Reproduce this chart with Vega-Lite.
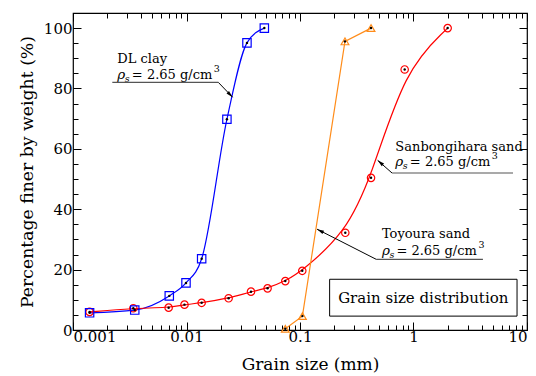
{
  "$schema": "https://vega.github.io/schema/vega-lite/v6.json",
  "width": 454,
  "height": 317,
  "autosize": "none",
  "padding": {"left": 73, "top": 13, "right": 9, "bottom": 46},
  "background": "white",
  "config": {
    "view": {"stroke": "black", "strokeWidth": 1.2},
    "font": "DejaVu Serif",
    "axis": {
      "grid": false,
      "domain": false,
      "labelFont": "DejaVu Serif",
      "labelFontSize": 15,
      "labelColor": "black",
      "titleFont": "DejaVu Serif",
      "titleFontSize": 17,
      "titleFontWeight": "normal",
      "titleColor": "black",
      "tickColor": "black",
      "tickWidth": 1
    }
  },
  "datasets": {
    "pts": [
      {"s": "DL", "x": 0.0014, "y": 5.7},
      {"s": "DL", "x": 0.0035, "y": 6.6},
      {"s": "DL", "x": 0.00705, "y": 11.3},
      {"s": "DL", "x": 0.0099, "y": 15.6},
      {"s": "DL", "x": 0.0136, "y": 23.6},
      {"s": "DL", "x": 0.0227, "y": 69.8},
      {"s": "DL", "x": 0.0341, "y": 95.1},
      {"s": "DL", "x": 0.0485, "y": 100},
      {"s": "SB", "x": 0.0014, "y": 6.0},
      {"s": "SB", "x": 0.0034, "y": 7.2},
      {"s": "SB", "x": 0.00696, "y": 7.4},
      {"s": "SB", "x": 0.0096, "y": 8.4},
      {"s": "SB", "x": 0.0136, "y": 9.0},
      {"s": "SB", "x": 0.0235, "y": 10.5},
      {"s": "SB", "x": 0.037, "y": 12.7},
      {"s": "SB", "x": 0.0518, "y": 13.8},
      {"s": "SB", "x": 0.0742, "y": 16.2},
      {"s": "SB", "x": 0.1047, "y": 19.6},
      {"s": "SB", "x": 0.2507, "y": 32.2},
      {"s": "SB", "x": 0.4225, "y": 50.4},
      {"s": "SB", "x": 0.836, "y": 86.3},
      {"s": "SB", "x": 2.0, "y": 100},
      {"s": "TY", "x": 0.0742, "y": 0.4},
      {"s": "TY", "x": 0.105, "y": 4.6},
      {"s": "TY", "x": 0.249, "y": 95.6},
      {"s": "TY", "x": 0.4225, "y": 100}
    ],
    "lbl": [
      {"x": 0.00246, "y": 88.6, "t": "DL clay"},
      {"x": 0.692, "y": 59.2, "t": "Sanbongihara sand"},
      {"x": 0.527, "y": 30.5, "t": "Toyoura sand"}
    ],
    "rho": [
      {"x": 0.00246, "y": 83.3},
      {"x": 0.692, "y": 54.2},
      {"x": 0.527, "y": 24.8}
    ],
    "under": [
      {"x": 0.00222, "x2": 0.0191, "y": 82.0},
      {"x": 0.647, "x2": 7.53, "y": 52.0},
      {"x": 0.47, "x2": 4.09, "y": 23.4}
    ],
    "shaft": [
      {"x": 0.0191, "y": 82.0, "x2": 0.02548, "y2": 77.1},
      {"x": 0.647, "y": 52.0, "x2": 0.483, "y2": 56.2},
      {"x": 0.47, "y": 23.4, "x2": 0.1413, "y2": 33.4}
    ]
  },
  "encoding": {
    "x": {"field": "x", "type": "quantitative", "scale": {"type": "log", "domain": [0.001, 10], "nice": false}, "axis": null},
    "y": {"field": "y", "type": "quantitative", "scale": {"domain": [0, 105], "nice": false, "zero": true}, "axis": null}
  },
  "layer": [
    {
      "data": {"name": "pts"},
      "transform": [{"filter": "datum.s == 'DL'"}],
      "mark": {"type": "line", "color": "#0000ff", "strokeWidth": 1.2, "interpolate": "monotone"},
      "encoding": {
        "x": {"field": "x", "type": "quantitative", "scale": {"type": "log", "domain": [0.001, 10], "nice": false},
          "title": "Grain size (mm)",
          "axis": {
            "orient": "bottom",
            "values": [0.001,0.002,0.003,0.004,0.005,0.006,0.007,0.008,0.009,0.01,0.02,0.03,0.04,0.05,0.06,0.07,0.08,0.09,0.1,0.2,0.3,0.4,0.5,0.6,0.7,0.8,0.9,1,2,3,4,5,6,7,8,9,10],
            "tickSize": {"condition": {"test": "abs(log(datum.value)/LN10 - round(log(datum.value)/LN10)) < 1e-6", "value": -8}, "value": -5},
            "labelExpr": "abs(log(datum.value)/LN10 - round(log(datum.value)/LN10)) < 1e-6 ? toString(datum.value) : ''",
            "labelPadding": 7,
            "titleX": 237,
            "titleY": 39,
            "titleBaseline": "alphabetic"
          }
        },
        "y": {"field": "y", "type": "quantitative", "scale": {"domain": [0, 105], "nice": false, "zero": true},
          "title": "Percentage finer by weight (%)",
          "axis": {
            "orient": "left",
            "values": [0,5,10,15,20,25,30,35,40,45,50,55,60,65,70,75,80,85,90,95,100],
            "tickSize": {"condition": {"test": "datum.value % 20 == 0", "value": -8}, "value": -5},
            "labelExpr": "datum.value % 20 == 0 ? datum.label : ''",
            "labelPadding": 9,
            "titleFontSize": 17.25,
            "titlePadding": 7
          }
        }
      }
    },
    {
      "data": {"name": "pts"},
      "transform": [{"filter": "datum.s == 'SB'"}],
      "mark": {"type": "line", "color": "#ff0000", "strokeWidth": 1.2, "interpolate": "basis"},
      "encoding": {
        "x": {"field": "x", "type": "quantitative", "scale": {"type": "log", "domain": [0.001, 10], "nice": false},
          "title": null,
          "axis": {
            "orient": "top",
            "values": [0.001,0.002,0.003,0.004,0.005,0.006,0.007,0.008,0.009,0.01,0.02,0.03,0.04,0.05,0.06,0.07,0.08,0.09,0.1,0.2,0.3,0.4,0.5,0.6,0.7,0.8,0.9,1,2,3,4,5,6,7,8,9,10],
            "tickSize": {"condition": {"test": "abs(log(datum.value)/LN10 - round(log(datum.value)/LN10)) < 1e-6", "value": -8}, "value": -5},
            "labels": false
          }
        },
        "y": {"field": "y", "type": "quantitative", "scale": {"domain": [0, 105], "nice": false, "zero": true},
          "title": null,
          "axis": {
            "orient": "right",
            "values": [0,5,10,15,20,25,30,35,40,45,50,55,60,65,70,75,80,85,90,95,100],
            "tickSize": {"condition": {"test": "datum.value % 20 == 0", "value": -8}, "value": -5},
            "labels": false
          }
        }
      }
    },
    {
      "data": {"name": "pts"},
      "transform": [{"filter": "datum.s == 'TY'"}],
      "mark": {"type": "line", "color": "#ff8c1a", "strokeWidth": 1.2}
    },
    {
      "data": {"name": "pts"},
      "transform": [{"filter": "datum.s == 'SB'"}],
      "mark": {"type": "point", "shape": "circle", "filled": false, "color": "#ff0000", "size": 55, "strokeWidth": 1.2, "opacity": 1}
    },
    {
      "data": {"name": "pts"},
      "transform": [{"filter": "datum.s == 'TY'"}],
      "mark": {"type": "point", "shape": "triangle-up", "filled": false, "color": "#ff8c1a", "size": 60, "strokeWidth": 1.2, "opacity": 1}
    },
    {
      "data": {"name": "pts"},
      "transform": [{"filter": "datum.s == 'DL'"}],
      "mark": {"type": "point", "shape": "square", "filled": false, "color": "#0000ff", "size": 70, "strokeWidth": 1.2, "opacity": 1}
    },
    {
      "data": {"name": "pts"},
      "mark": {"type": "point", "shape": "circle", "filled": true, "color": "black", "size": 6, "opacity": 1}
    },
    {
      "data": {"name": "lbl"},
      "mark": {"type": "text", "align": "left", "baseline": "alphabetic", "fontSize": 13, "color": "black"},
      "encoding": {"text": {"field": "t"}}
    },
    {
      "data": {"name": "rho"},
      "mark": {"type": "text", "align": "left", "baseline": "alphabetic", "fontSize": 13.5, "fontStyle": "italic", "color": "black", "text": "ρ"}
    },
    {
      "data": {"name": "rho"},
      "mark": {"type": "text", "align": "left", "baseline": "alphabetic", "fontSize": 9.5, "fontStyle": "italic", "color": "black", "text": "s", "dx": 7.5, "dy": 3}
    },
    {
      "data": {"name": "rho"},
      "mark": {"type": "text", "align": "left", "baseline": "alphabetic", "fontSize": 13, "color": "black", "text": "= 2.65 g/cm", "dx": 14.5}
    },
    {
      "data": {"name": "rho"},
      "mark": {"type": "text", "align": "left", "baseline": "alphabetic", "fontSize": 9.5, "color": "black", "text": "3", "dx": 96.5, "dy": -7}
    },
    {
      "data": {"name": "under"},
      "mark": {"type": "rule", "color": "#555555", "strokeWidth": 1.2},
      "encoding": {"x2": {"field": "x2"}}
    },
    {
      "data": {"name": "shaft"},
      "mark": {"type": "rule", "color": "black", "strokeWidth": 1},
      "encoding": {"x2": {"field": "x2"}, "y2": {"field": "y2"}}
    },
    {
      "data": {"values": [{"x": 0.02548, "y": 77.1}]},
      "mark": {"type": "point", "shape": "M0,0L-0.5,2L0.5,2Z", "filled": true, "color": "black", "size": 49, "angle": 136, "opacity": 1}
    },
    {
      "data": {"values": [{"x": 0.483, "y": 56.2}]},
      "mark": {"type": "point", "shape": "M0,0L-0.5,2L0.5,2Z", "filled": true, "color": "black", "size": 49, "angle": 311, "opacity": 1}
    },
    {
      "data": {"values": [{"x": 0.1413, "y": 33.4}]},
      "mark": {"type": "point", "shape": "M0,0L-0.5,2L0.5,2Z", "filled": true, "color": "black", "size": 49, "angle": 297, "opacity": 1}
    },
    {
      "data": {"values": [{"x": 0.1824, "x2": 8.17, "y": 16.8, "y2": 4.6}]},
      "mark": {"type": "rect", "fill": "white", "stroke": "black", "strokeWidth": 1},
      "encoding": {"x2": {"field": "x2"}, "y2": {"field": "y2"}}
    },
    {
      "data": {"values": [{"x": 1.219, "y": 10.7, "t": "Grain size distribution"}]},
      "mark": {"type": "text", "align": "center", "baseline": "middle", "fontSize": 15, "color": "black"},
      "encoding": {"text": {"field": "t"}}
    }
  ],
  "resolve": {"axis": {"x": "independent", "y": "independent"}}
}
